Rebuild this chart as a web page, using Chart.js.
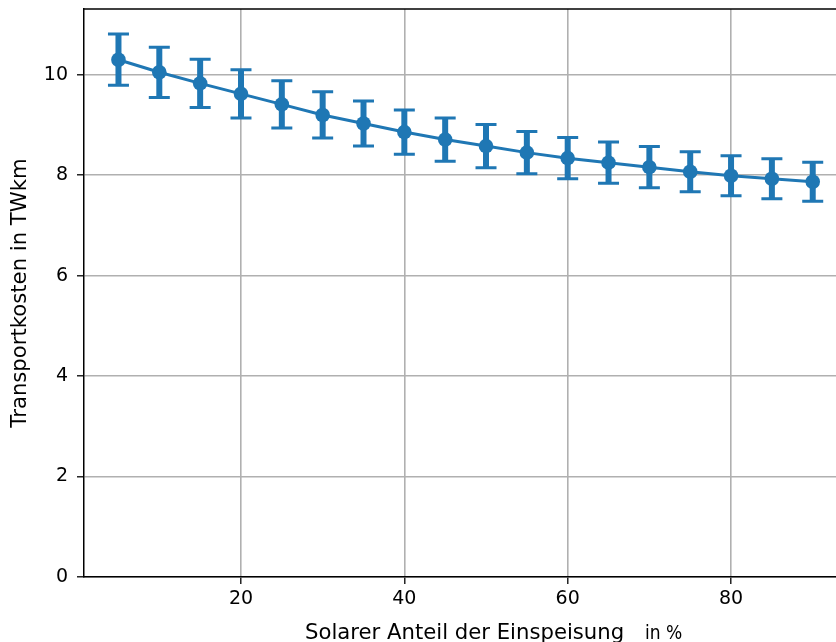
<!DOCTYPE html>
<html><head><meta charset="utf-8">
<script src="https://cdn.jsdelivr.net/npm/chart.js@4/dist/chart.umd.min.js"></script>
<style>html,body{margin:0;padding:0;background:#fff;}#wrap{width:836px;height:642px;}</style>
</head><body><div id="wrap"><canvas id="c" width="836" height="642"></canvas></div>
<script>
const xValues = [5,10,15,20,25,30,35,40,45,50,55,60,65,70,75,80,85,90];
const yValues = [10.30,10.05,9.83,9.62,9.41,9.20,9.03,8.86,8.71,8.58,8.45,8.34,8.25,8.16,8.07,7.99,7.93,7.87];
const yErrors = [0.51,0.50,0.48,0.48,0.47,0.46,0.45,0.44,0.43,0.43,0.42,0.41,0.41,0.41,0.40,0.40,0.40,0.39];
const xTicks = [20,40,60,80];
const yTicks = [0,2,4,6,8,10];
const xTitleMain = 'Solarer Anteil der Einspeisung';
const xTitleUnit = 'in %';
const yTitle = 'Transportkosten in TWkm';
const color = '#1f77b4';
const FONT = "'DejaVu Sans', sans-serif";

const errorBars = {
  id: 'errorBars',
  beforeDatasetsDraw(chart) {
    const ctx = chart.ctx, xs = chart.scales.x, ys = chart.scales.y;
    ctx.save();
    ctx.strokeStyle = color;
    xValues.forEach((xv, i) => {
      const px = xs.getPixelForValue(xv);
      const top = ys.getPixelForValue(yValues[i] + yErrors[i]);
      const bot = ys.getPixelForValue(yValues[i] - yErrors[i]);
      ctx.lineWidth = 6;
      ctx.beginPath(); ctx.moveTo(px, top); ctx.lineTo(px, bot); ctx.stroke();
      ctx.lineWidth = 3;
      ctx.beginPath(); ctx.moveTo(px - 10.5, top); ctx.lineTo(px + 10.5, top);
      ctx.moveTo(px - 10.5, bot); ctx.lineTo(px + 10.5, bot); ctx.stroke();
    });
    ctx.restore();
  },
  afterDraw(chart) {
    const ctx = chart.ctx, a = chart.chartArea;
    ctx.save();
    ctx.strokeStyle = '#000'; ctx.lineWidth = 1.5;
    ctx.beginPath(); ctx.moveTo(a.left, a.top); ctx.lineTo(a.right, a.top); ctx.stroke();
    ctx.fillStyle = '#000';
    ctx.textBaseline = 'alphabetic';
    ctx.textAlign = 'left';
    ctx.font = "21.2px 'DejaVu Sans', sans-serif";
    const x0 = 305, base = 638.5;
    ctx.fillText(xTitleMain, x0, base);
    const w = ctx.measureText(xTitleMain).width;
    ctx.font = "19px 'DejaVu Sans Condensed', 'Liberation Sans Narrow', 'DejaVu Sans', sans-serif";
    ctx.fillText(xTitleUnit, 645, base);
    ctx.restore();
  }
};

new Chart(document.getElementById('c'), {
  type: 'line',
  data: {
    datasets: [{
      data: xValues.map((x, i) => ({x: x, y: yValues[i]})),
      borderColor: color, backgroundColor: color,
      borderWidth: 3, pointRadius: 7.3, pointHoverRadius: 7.3,
      pointBackgroundColor: color, pointBorderWidth: 0, tension: 0
    }]
  },
  options: {
    responsive: false, animation: false, devicePixelRatio: 1,
    layout: {autoPadding: false, padding: {top: 9, right: 0, left: 0, bottom: 0}},
    plugins: {legend: {display: false}, tooltip: {enabled: false}},
    scales: {
      x: {
        type: 'linear', min: 0.78, max: 92.85,
        afterBuildTicks: s => { s.ticks = xTicks.map(v => ({value: v})); },
        afterFit: s => { s.height = 65; s.paddingLeft = 0; s.paddingRight = 0; },
        grid: {color: '#b0b0b0', lineWidth: 1.6, tickColor: '#000', tickLength: 7, tickWidth: 1.3},
        border: {color: '#000', width: 1.5},
        ticks: {color: '#000', font: {family: FONT, size: 19}, padding: 4, maxRotation: 0},
        title: {display: false}
      },
      y: {
        min: 0, max: 11.31,
        afterBuildTicks: s => { s.ticks = yTicks.map(v => ({value: v})); },
        afterFit: s => { s.width = 84; s.paddingTop = 0; s.paddingBottom = 0; },
        grid: {color: '#b0b0b0', lineWidth: 1.6, tickColor: '#000', tickLength: 7, tickWidth: 1.3},
        border: {color: '#000', width: 1.5},
        ticks: {color: '#000', font: {family: FONT, size: 19}, padding: 9},
        title: {display: true, text: yTitle, color: '#000', font: {family: FONT, size: 21.2}, padding: {top: 8, bottom: 0}}
      }
    }
  },
  plugins: [errorBars]
});
</script></body></html>
